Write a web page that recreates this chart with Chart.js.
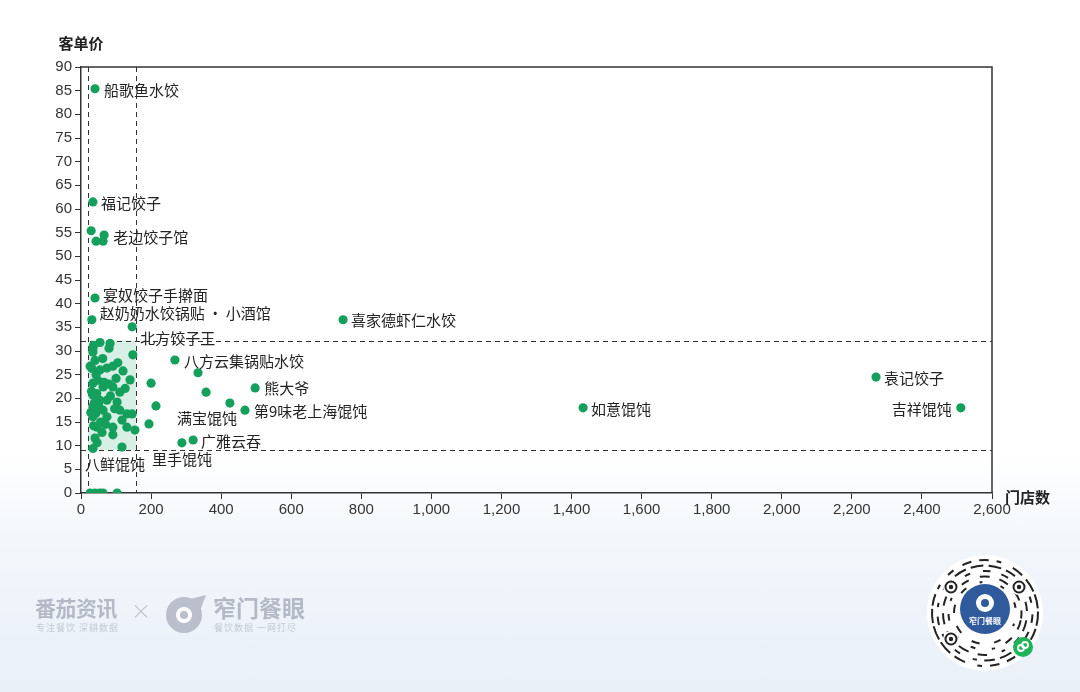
<!DOCTYPE html>
<html>
<head>
<meta charset="utf-8">
<script src="https://cdn.jsdelivr.net/npm/chart.js@4"></script>
<style>
  html, body { margin: 0; padding: 0; }
  body {
    width: 1080px; height: 692px; overflow: hidden; position: relative;
    background: linear-gradient(to bottom, #ffffff 0%, #ffffff 66%, #f1f6fb 80%, #e9f0f8 100%);
    font-family: "Noto Sans CJK SC", "Noto Sans", sans-serif;
  }
  #wrap { position: absolute; left: 0; top: 0; width: 1080px; height: 692px; }
  .logo { position: absolute; color: #b3bac6; font-weight: 700; }
  .sub { position: absolute; color: #c3c9d2; font-size: 9px; letter-spacing: 1px; }
</style>
</head>
<body>
<div id="wrap"><canvas id="chart"></canvas></div>

<div class="logo" style="left:35px;top:592px;font-size:21px;letter-spacing:-0.5px;">番茄资讯</div>
<div class="sub" style="left:36px;top:621px;">专注餐饮 深耕数据</div>
<div class="logo" style="left:131px;top:596px;font-size:20px;font-weight:300;color:#b8bfca;">×</div>
<canvas id="glogo" width="44" height="44" style="position:absolute;left:164px;top:591px;"></canvas>
<div class="logo" style="left:213px;top:590px;font-size:23px;">窄门餐眼</div>
<div class="sub" style="left:214px;top:621px;">餐饮数据 一网打尽</div>
<canvas id="qr" width="120" height="120" style="position:absolute;left:925px;top:553px;"></canvas>

<script>
// labelled brands
const brandNames = ["船歌鱼水饺","福记饺子","老边饺子馆","宴奴饺子手擀面","赵奶奶水饺锅贴\u2009·\u2009小酒馆","北方饺子王",
  "喜家德虾仁水饺","八方云集锅贴水饺","袁记饺子","熊大爷","如意馄饨","吉祥馄饨","第9味老上海馄饨",
  "满宝馄饨","广雅云吞","里手馄饨","八鲜馄饨"];
const brandStores = [40, 34, 66, 40, 31, 146, 748, 268, 2269, 497, 1433, 2511, 468, 425, 320, 288, 117];
const brandPrices = [85.4, 61.5, 54.5, 41.2, 36.6, 35.1, 36.6, 28.1, 24.5, 22.2, 18.0, 18.0, 17.5, 19.0, 11.2, 10.6, 9.7];

// unlabelled brands
const otherStores = [29, 43, 63,
  54, 83, 36, 34, 80, 34, 148, 40, 62, 26, 31, 54, 74, 91, 43, 120, 100, 140, 34, 48, 66, 80,
  63, 91, 126, 111, 30, 45, 34, 84, 54, 74, 103, 38, 50, 34, 96, 63, 111, 28, 42, 131, 146,
  34, 74, 117, 56, 70, 36, 46, 91, 131, 154, 60, 91, 40, 46, 34, 105,
  26, 40, 54, 63, 103,
  200, 214, 194, 334, 357];
const otherPrices = [55.4, 53.2, 53.2,
  31.8, 31.6, 31.2, 30.6, 30.6, 29.8, 29.2, 28.0, 28.4, 26.8, 26.3, 26.0, 26.4, 26.8, 25.0, 25.8, 24.2, 23.9, 23.2, 23.8, 23.4, 23.0,
  22.4, 22.4, 22.1, 21.3, 21.5, 21.0, 20.7, 20.5, 19.6, 19.6, 19.2, 19.0, 18.5, 18.2, 17.8, 17.5, 17.5, 17.0, 16.8, 16.7, 16.7,
  16.1, 16.1, 15.4, 15.0, 14.5, 14.2, 13.9, 13.9, 13.9, 13.3, 12.8, 12.3, 11.6, 10.6, 9.4, 27.5,
  0, 0, 0, 0, 0,
  23.2, 18.4, 14.6, 25.4, 21.3];

// reference lines
const storeLines = [20, 157];
const priceLines = [9.1, 32.2];

const xTicksMax = 2600, xStep = 200;
const yTicksMax = 90, yStep = 5;

const POINT = "#14a05c";
const INK = "#333333";
const tickFont = { family: "'Liberation Sans', Arial, sans-serif", size: 15 };

// label placement (pixel offsets from the point)
const labelPos = {
  "船歌鱼水饺": [9, 2, "left"],
  "福记饺子": [8, 1, "left"],
  "老边饺子馆": [9, 2, "left"],
  "宴奴饺子手擀面": [8, -3, "left"],
  "赵奶奶水饺锅贴\u2009·\u2009小酒馆": [8, -6, "left"],
  "北方饺子王": [8, 11, "left"],
  "喜家德虾仁水饺": [8, 1, "left"],
  "八方云集锅贴水饺": [9, 1, "left"],
  "袁记饺子": [8, 1, "left"],
  "熊大爷": [9, 0, "left"],
  "如意馄饨": [8, 1, "left"],
  "吉祥馄饨": [-9, 1, "right"],
  "第9味老上海馄饨": [9, 1, "left"],
  "满宝馄饨": [7, 15, "right"],
  "广雅云吞": [8, 1, "left"],
  "里手馄饨": [0, 16, "center"],
  "八鲜馄饨": [-7, 17, "center"]
};

const guides = {
  id: "guides",
  beforeDatasetsDraw(chart) {
    const { ctx, chartArea: a, scales: { x, y } } = chart;
    ctx.save();
    // shaded box
    ctx.fillStyle = "rgba(20,160,92,0.17)";
    const x0 = x.getPixelForValue(storeLines[0]), x1 = x.getPixelForValue(storeLines[1]);
    const y0 = y.getPixelForValue(priceLines[1]), y1 = y.getPixelForValue(priceLines[0]);
    ctx.fillRect(x0, y0, x1 - x0, y1 - y0);
    ctx.strokeStyle = INK;
    ctx.lineWidth = 1;
    ctx.setLineDash([5, 4]);
    storeLines.forEach(v => {
      const p = Math.round(x.getPixelForValue(v)) + 0.5;
      ctx.beginPath(); ctx.moveTo(p, a.top); ctx.lineTo(p, a.bottom); ctx.stroke();
    });
    priceLines.forEach(v => {
      const p = Math.round(y.getPixelForValue(v)) + 0.5;
      ctx.beginPath(); ctx.moveTo(a.left, p); ctx.lineTo(a.right, p); ctx.stroke();
    });
    ctx.restore();
  },
  afterDraw(chart) {
    const { ctx, chartArea: a } = chart;
    ctx.save();
    // box frame top/right
    ctx.strokeStyle = INK;
    ctx.lineWidth = 1.5;
    ctx.beginPath();
    ctx.moveTo(a.left, a.top); ctx.lineTo(a.right, a.top); ctx.lineTo(a.right, a.bottom);
    ctx.stroke();
    // axis titles
    ctx.fillStyle = "#222";
    ctx.font = "bold 15px 'Noto Sans CJK SC'";
    ctx.textBaseline = "middle";
    ctx.textAlign = "center";
    ctx.fillText("客单价", a.left, a.top - 24);
    ctx.textAlign = "left";
    ctx.fillText("门店数", a.right + 13, a.bottom + 4);
    // point labels
    ctx.font = "15px 'Noto Sans CJK SC'";
    ctx.fillStyle = "#222";
    const meta = chart.getDatasetMeta(0);
    meta.data.forEach((pt, i) => {
      const name = brandNames[i];
      const [dx, dy, al] = labelPos[name];
      ctx.textAlign = al;
      ctx.fillText(name, pt.x + dx, pt.y + dy);
    });
    ctx.restore();
  }
};

new Chart(document.getElementById("chart"), {
  type: "scatter",
  data: {
    datasets: [
      {
        label: "品牌",
        data: brandStores.map((s, i) => ({ x: s, y: brandPrices[i] })),
        backgroundColor: POINT, borderWidth: 0, pointRadius: 4.6
      },
      {
        label: "其他",
        data: otherStores.map((s, i) => ({ x: s, y: otherPrices[i] })),
        backgroundColor: POINT, borderWidth: 0, pointRadius: 4.6
      }
    ]
  },
  options: {
    responsive: true, maintainAspectRatio: false, animation: false,
    layout: { padding: { left: 0, top: 67, right: 88, bottom: 0 } },
    plugins: { legend: { display: false }, tooltip: { enabled: false } },
    scales: {
      x: {
        min: 0, max: xTicksMax,
        grid: { display: true, drawOnChartArea: false, drawTicks: true, tickLength: 6, color: INK },
        border: { color: INK, width: 1.5 },
        ticks: { stepSize: xStep, color: INK, font: tickFont, padding: 2, maxRotation: 0,
                 callback: v => v.toLocaleString("en-US") },
        afterFit: s => { s.height = 199; }
      },
      y: {
        min: 0, max: yTicksMax,
        grid: { display: true, drawOnChartArea: false, drawTicks: true, tickLength: 6, color: INK },
        border: { color: INK, width: 1.5 },
        ticks: { stepSize: yStep, color: INK, font: tickFont, padding: 3 },
        afterFit: s => { s.width = 81; }
      }
    }
  },
  plugins: [guides]
});

// decorative logos
(function () {
  const g = document.getElementById("glogo").getContext("2d");
  g.fillStyle = "#b9c0cb";
  g.beginPath(); g.arc(20, 24, 18, 0, Math.PI * 2); g.fill();
  g.fillStyle = "#ffffff";
  g.beginPath(); g.arc(20, 24, 8, 0, Math.PI * 2); g.fill();
  g.fillStyle = "#b9c0cb";
  g.beginPath(); g.arc(20, 24, 4, 0, Math.PI * 2); g.fill();
  g.beginPath(); g.moveTo(26, 8); g.lineTo(42, 4); g.lineTo(36, 20); g.closePath(); g.fill();

  const q = document.getElementById("qr").getContext("2d");
  const cx = 60, cy = 60;
  q.fillStyle = "#ffffff";
  q.beginPath(); q.arc(cx, cy, 58, 0, Math.PI * 2); q.fill();
  q.strokeStyle = "#222"; q.lineCap = "butt";
  const pattern = [3, 5, 2, 6, 4, 3, 5, 2, 4, 6, 3, 2, 5, 4, 3, 6, 2, 5, 3, 4];
  for (let ring = 0; ring < 5; ring++) {
    const r = 31 + ring * 5.5;
    const n = 18 + ring * 5;
    for (let k = 0; k < n; k++) {
      if ((k + ring) % 2 === 0) continue;
      const len = pattern[(k * 7 + ring * 3) % pattern.length] * 0.045;
      const a0 = (k / n) * Math.PI * 2 + ring * 0.2;
      q.lineWidth = 2;
      q.beginPath(); q.arc(cx, cy, r, a0, a0 + len); q.stroke();
    }
  }
  // finder eyes
  [[26, 34], [94, 34], [26, 86]].forEach(([ex, ey]) => {
    q.fillStyle = "#ffffff"; q.beginPath(); q.arc(ex, ey, 8, 0, Math.PI * 2); q.fill();
    q.lineWidth = 2; q.beginPath(); q.arc(ex, ey, 5.5, 0, Math.PI * 2); q.stroke();
    q.fillStyle = "#222"; q.beginPath(); q.arc(ex, ey, 2.2, 0, Math.PI * 2); q.fill();
  });
  q.fillStyle = "#2f5a9c";
  q.beginPath(); q.arc(cx, cy - 4, 25, 0, Math.PI * 2); q.fill();
  q.fillStyle = "#ffffff";
  q.beginPath(); q.arc(cx, cy - 10, 9, 0, Math.PI * 2); q.fill();
  q.fillStyle = "#2f5a9c";
  q.beginPath(); q.arc(cx, cy - 10, 4, 0, Math.PI * 2); q.fill();
  q.fillStyle = "#ffffff";
  q.font = "bold 8px 'Noto Sans CJK SC'"; q.textAlign = "center"; q.textBaseline = "middle";
  q.fillText("窄门餐眼", cx, cy + 8);
  q.fillStyle = "#1fb35a";
  q.beginPath(); q.arc(cx + 38, cy + 34, 10, 0, Math.PI * 2); q.fill();
  q.strokeStyle = "#ffffff"; q.lineWidth = 1.8;
  q.beginPath(); q.arc(cx + 36, cy + 35, 3, 0, Math.PI * 2); q.stroke();
  q.beginPath(); q.arc(cx + 40, cy + 32, 3, 0, Math.PI * 2); q.stroke();
})();
</script>
</body>
</html>
